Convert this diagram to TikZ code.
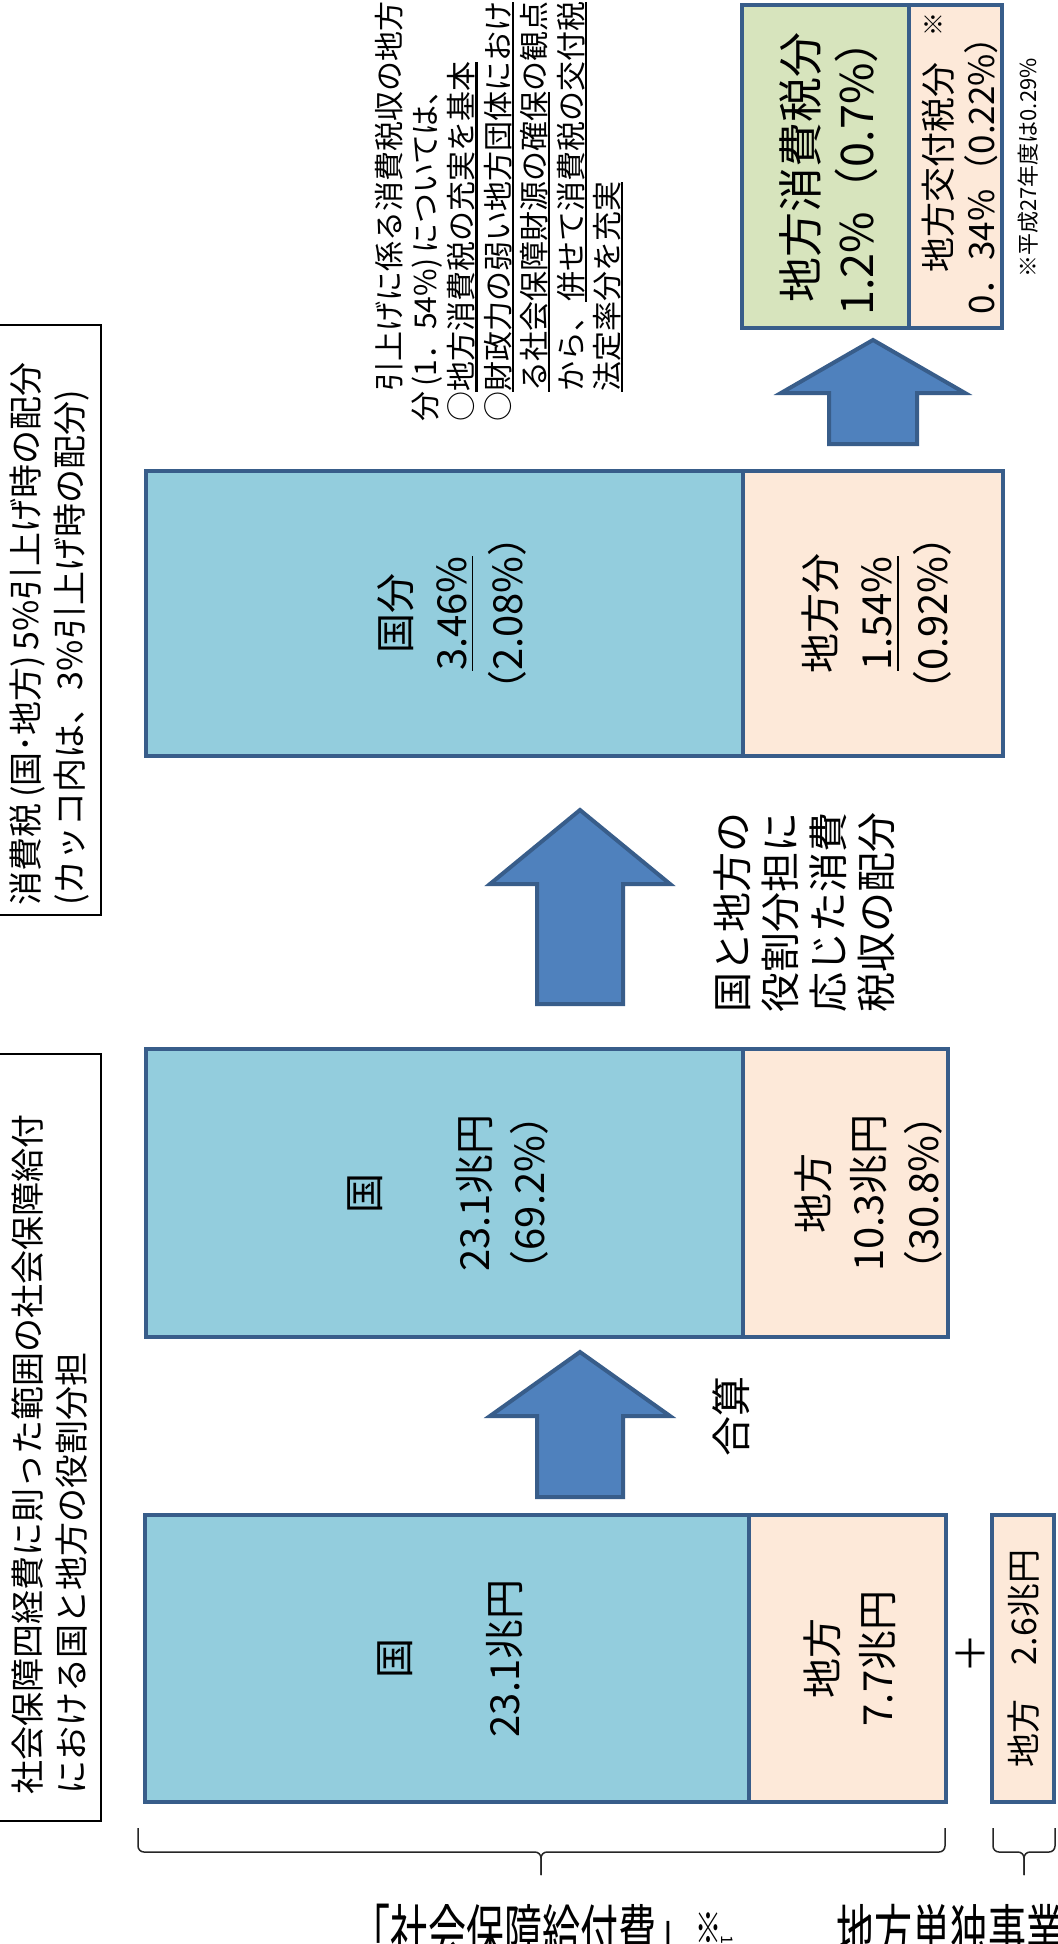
\documentclass[tikz,border=0pt]{standalone}
\usepackage{fontspec}
\setmainfont{Noto Sans CJK JP}
\usepackage{graphicx}
\definecolor{bfill}{RGB}{147,205,221}
\definecolor{pfill}{RGB}{253,233,217}
\definecolor{gfill}{RGB}{215,228,189}
\definecolor{edgeblue}{RGB}{56,93,138}
\definecolor{afill}{RGB}{79,129,189}
\newcommand\ulx[1]{\setbox0=\hbox{#1}\leavevmode\rlap{\rule[-2.4pt]{\wd0}{1.1pt}}\box0}
\newcommand\ulb[1]{\setbox0=\hbox{#1}\leavevmode\rlap{\rule[-3.4pt]{\wd0}{0.8pt}}\box0}
\newcommand\blockarrow[6]{\draw[arrowshape] (#1,#2) -- (#1+#5,#3) -- (#1+#6,#3) -- (#1+#6,#4) -- (#1-#6,#4) -- (#1-#6,#3) -- (#1-#5,#3) -- cycle;}
\tikzset{
  cbox/.style={draw=edgeblue, line width=2pt, inner sep=0pt},
  tbox/.style={draw=black, line width=1pt, fill=white, inner sep=0pt},
  vtxt/.style={rotate=90, inner sep=0pt},
  arrowshape/.style={fill=afill, draw=edgeblue, line width=2pt, line join=miter},
  bracel/.style={draw=black!85, line width=0.75pt, rounded corners=3pt},
  blabel/.style={inner sep=0pt, anchor=north west, font=\fontsize{19pt}{19pt}\selectfont},
}
\begin{document}
\begin{tikzpicture}[x=0.5pt,y=-0.5pt]
\useasboundingbox (0,0) rectangle (1057,1944);
\fill[white] (0,0) rectangle (1057,1944);

% left title boxes
\node[tbox, minimum width=53pt, minimum height=295pt] (boxA) at (48,620) {};
\node[vtxt, anchor=west, align=left, font=\fontsize{17pt}{22pt}\selectfont] (tA) at (50,906) {消費税\,(国･地方)\,5\%引上げ時の配分\\(カッコ内は、3\%引上げ時の配分)};
\node[tbox, minimum width=53pt, minimum height=383.5pt] (boxB) at (48,1437.5) {};
\node[vtxt, anchor=west, align=left, font=\fontsize{17pt}{22pt}\selectfont] (tB) at (50,1795) {社会保障四経費に則った範囲の社会保障給付\\における国と地方の役割分担};

% top-right boxes
\node[cbox, fill=gfill, minimum width=83.5pt, minimum height=161.5pt] (rgreen) at (825.5,166.5) {};
\node[cbox, fill=pfill, minimum width=46.5pt, minimum height=161.5pt] (rpeach) at (955.5,166.5) {};
\node[vtxt, align=center, font=\fontsize{22.5pt}{28pt}\selectfont] (tgreen) at (829,167) {地方消費税分\\1.2\%（0.7\%）};
\node[vtxt, align=center, font=\fontsize{17.5pt}{21.5pt}\selectfont] (tpeach) at (959.5,167) {地方交付税分\\0．34\%（0.22\%）};
\node[vtxt, font=\fontsize{12pt}{12pt}\selectfont] (kome) at (934,24) {※};
\node[vtxt, font=\fontsize{11pt}{11pt}\selectfont] (foot) at (1028,168) {※平成27年度は0.29\%};

% right explanatory text
\node[vtxt, anchor=west, align=left, font=\fontsize{15pt}{18.2pt}\selectfont] (tR) at (499,422) {\hspace*{1em}引上げに係る消費税収の地方\\分\,(1．54\%)\,については、\\○\ulx{地方消費税の充実を基本}\\○\ulx{財政力の弱い地方団体におけ}\\\hspace*{1em}\ulx{る社会保障財源の確保}の観点\\\hspace*{1em}から、\ulx{併せて消費税の交付税}\\\hspace*{1em}\ulx{法定率分を充実}};

% arrow 1
\blockarrow{873}{340}{393}{444}{92}{44}

% top group
\node[cbox, fill=bfill, minimum width=298.5pt, minimum height=142.5pt] (gkoku) at (444.5,613.5) {};
\node[cbox, fill=pfill, minimum width=130pt, minimum height=142.5pt] (gchiho) at (873,613.5) {};
\node[vtxt, align=center, font=\fontsize{20pt}{28pt}\selectfont] (tgkoku) at (452,613.5) {国分\\\ulb{3.46\%}\\（2.08\%）};
\node[vtxt, align=center, font=\fontsize{20pt}{28pt}\selectfont] (tgchiho) at (877,613.5) {地方分\\\ulb{1.54\%}\\（0.92\%）};

% arrow 2 and label
\blockarrow{580}{810}{884}{1004}{90}{43}
\node[vtxt, anchor=west, align=left, font=\fontsize{20pt}{24pt}\selectfont] (thaibun) at (804.5,1013) {国と地方の\\役割分担に\\応じた消費\\税収の配分};

% middle group
\node[cbox, fill=bfill, minimum width=298.5pt, minimum height=144pt] (mkoku) at (444.5,1193) {};
\node[cbox, fill=pfill, minimum width=102.5pt, minimum height=144pt] (mchiho) at (845.5,1193) {};
\node[vtxt, align=center, font=\fontsize{20pt}{27.5pt}\selectfont] (tmkoku) at (448,1193) {国\\[27.5pt]23.1兆円\\（69.2\%）};
\node[vtxt, align=center, font=\fontsize{20pt}{27.5pt}\selectfont] (tmchiho) at (869,1193) {地方\\10.3兆円\\（30.8\%）};

% arrow 3 and label
\blockarrow{580}{1352}{1416}{1497}{90}{43}
\node[vtxt, font=\fontsize{20pt}{20pt}\selectfont] (tgassan) at (731,1416) {合算};

% bottom group
\node[cbox, fill=bfill, minimum width=302pt, minimum height=143.5pt] (bkoku) at (447,1658.5) {};
\node[cbox, fill=pfill, minimum width=98.5pt, minimum height=143.5pt] (bchiho) at (847.5,1658.5) {};
\node[cbox, fill=pfill, minimum width=31pt, minimum height=143.5pt] (btan) at (1023,1658.5) {};
\node[vtxt, align=center, font=\fontsize{20pt}{27.5pt}\selectfont] (tbkoku) at (450,1658.5) {国\\[27.5pt]23.1兆円};
\node[vtxt, align=center, font=\fontsize{20pt}{27.5pt}\selectfont] (tbchiho) at (850,1658.5) {地方\\7.7兆円};
\node[vtxt, font=\fontsize{17pt}{17pt}\selectfont] (tbtan) at (1024,1658.5) {地方　2.6兆円};
\node[vtxt, font=\fontsize{20pt}{20pt}\selectfont] (plus) at (971,1653) {＋};

% braces
\draw[bracel] (138,1828) |- (541,1852) -- (541,1875);
\draw[bracel] (945,1828) |- (541,1852) -- (541,1875);
\draw[bracel] (993,1828) |- (1024,1852) -- (1024,1875);
\draw[bracel] (1055,1828) |- (1024,1852) -- (1024,1875);

% bottom labels (cut by the page edge, as in the reference)
\node[blabel] (lab1) at (352,1904) {\scalebox{1}[1.6]{「社会保障給付費」}};
\node[blabel, font=\fontsize{13pt}{13pt}\selectfont] (lab1n) at ([yshift=-4pt]lab1.north east) {\scalebox{1}[1.6]{※}\raisebox{4pt}{\rotatebox{-90}{\fontsize{8pt}{8pt}\selectfont 1}}};
\node[blabel] (lab2) at (836,1904) {\scalebox{1}[1.6]{地方単独事業}};
\end{tikzpicture}
\end{document}
